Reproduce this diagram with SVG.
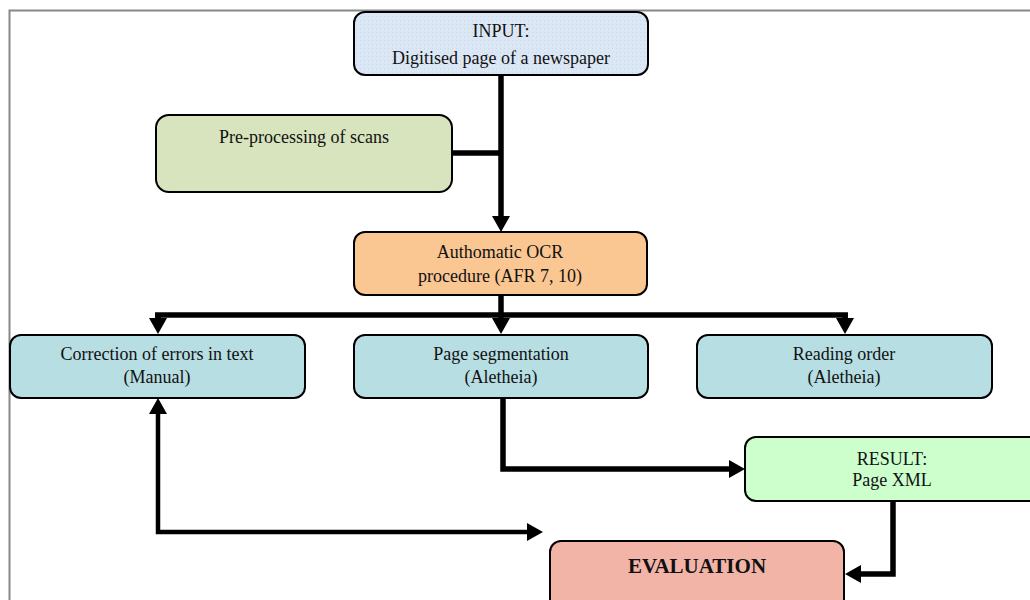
<svg xmlns="http://www.w3.org/2000/svg" width="1030" height="600" viewBox="0 0 1030 600">
<style>
  .box { stroke: #000; stroke-width: 2; }
  .t { font-family: "Liberation Serif", "Times New Roman", serif; font-size: 18px; fill: #111; text-anchor: middle; }
  .tb { font-weight: bold; font-size: 21px; }
  .c { fill: none; stroke: #000; stroke-width: 5.5; stroke-linejoin: miter; }
  .c4 { stroke-width: 4.5; }
</style>
<defs>
  <marker id="ah" markerUnits="userSpaceOnUse" markerWidth="18" markerHeight="18" viewBox="0 0 16 18" refX="6" refY="9" orient="auto-start-reverse">
    <path d="M0,0 L16,9 L0,18 z" fill="#000"/>
  </marker>
  <pattern id="dots" width="4" height="4" patternUnits="userSpaceOnUse">
    <rect width="4" height="4" fill="#dce7f6"/>
    <rect width="1" height="1" fill="#c9d8ee"/>
  </pattern>
</defs>
<rect width="1030" height="600" fill="#fff"/>
<path d="M9.5,600 V10.5 H1030" fill="none" stroke="#888" stroke-width="2"/>

<g id="connectors">
  <path class="c" d="M501,75 V222" marker-end="url(#ah)"/>
  <path class="c" d="M452,153 H501"/>
  <path class="c" d="M501,295 V315"/>
  <path class="c" d="M155,315 H848"/>
  <path class="c" d="M158,315 V324" marker-end="url(#ah)"/>
  <path class="c" d="M501,315 V324" marker-end="url(#ah)"/>
  <path class="c" d="M845,315 V324" marker-end="url(#ah)"/>
  <path class="c" d="M503,398 V469 H735" marker-end="url(#ah)"/>
  <path class="c c4" d="M158,408 V532 H533" marker-start="url(#ah)" marker-end="url(#ah)"/>
  <path class="c" d="M893,501 V574 H855" marker-end="url(#ah)"/>
</g>

<g id="input">
  <rect class="box" x="354" y="12" width="294" height="63" rx="11" fill="url(#dots)"/>
  <text class="t" x="501" y="37">INPUT:</text>
  <text class="t" x="501" y="64">Digitised page of a newspaper</text>
</g>
<g id="preprocessing">
  <rect class="box" x="156" y="115" width="296" height="77" rx="13" fill="#d7e4bd"/>
  <text class="t" x="304" y="143">Pre-processing of scans</text>
</g>
<g id="ocr">
  <rect class="box" x="354" y="232" width="293" height="63" rx="11" fill="#fac691"/>
  <text class="t" x="500" y="258">Authomatic OCR</text>
  <text class="t" x="500" y="282">procedure (AFR 7, 10)</text>
</g>
<g id="correction">
  <rect class="box" x="10" y="335" width="295" height="63" rx="11" fill="#b7dee3"/>
  <text class="t" x="157" y="360">Correction of errors in text</text>
  <text class="t" x="157" y="383">(Manual)</text>
</g>
<g id="segmentation">
  <rect class="box" x="354" y="335" width="294" height="63" rx="11" fill="#b7dee3"/>
  <text class="t" x="501" y="360">Page segmentation</text>
  <text class="t" x="501" y="383">(Aletheia)</text>
</g>
<g id="reading">
  <rect class="box" x="697" y="335" width="295" height="63" rx="11" fill="#b7dee3"/>
  <text class="t" x="844" y="360">Reading order</text>
  <text class="t" x="844" y="383">(Aletheia)</text>
</g>
<g id="result">
  <rect class="box" x="745" y="437" width="300" height="64" rx="11" fill="#ccffcc"/>
  <text class="t" x="892" y="465">RESULT:</text>
  <text class="t" x="892" y="486">Page XML</text>
</g>
<g id="evaluation">
  <rect class="box" x="550" y="541" width="294" height="70" rx="11" fill="#f3b4a8"/>
  <text class="t tb" x="697" y="573">EVALUATION</text>
</g>
</svg>
